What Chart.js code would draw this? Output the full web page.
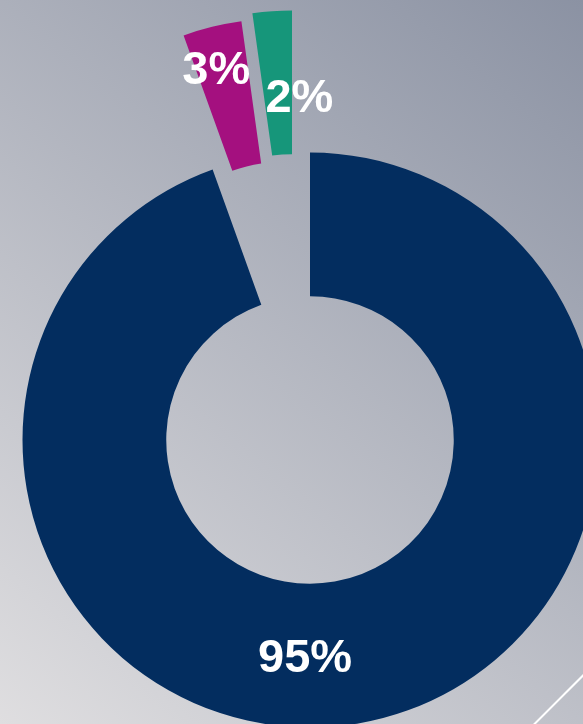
<!DOCTYPE html>
<html>
<head>
<meta charset="utf-8">
<script src="https://cdn.jsdelivr.net/npm/chart.js@4.4.1/dist/chart.umd.min.js"></script>
<style>
  html, body { margin: 0; padding: 0; background: #b8bbc5; }
  #wrap { width: 583px; height: 724px; }
</style>
</head>
<body>
<div id="wrap"><canvas id="chart" width="583" height="724"></canvas></div>
<script>
// slices, clockwise from 12 o'clock
const shares = [94.5, 3.3, 2.2];
const shareLabels = ["95%", "3%", "2%"];
const sliceColors = ["#032d5f", "#a4107f", "#16967a"];

// the two small slices are pulled out of the ring (px)
const explodeShift = [[0, 0], [-29, -134], [-18, -142]];
// label spot, measured from each slice's own centre: angle from 12 o'clock, distance
const labelAngle = [181.3, -15.2, 2.1];
const labelDist = [215, 247, 203];

const backdrop = {
  id: "backdrop",
  beforeDraw(chart) {
    const { ctx, width, height } = chart;
    const g = ctx.createLinearGradient(0, height, width, 0);
    g.addColorStop(0, "#dfdee0");
    g.addColorStop(1, "#8b92a3");
    ctx.save();
    ctx.fillStyle = g;
    ctx.fillRect(0, 0, width, height);
    // thin white slash in the corner
    ctx.strokeStyle = "#ffffff";
    ctx.lineWidth = 2;
    ctx.beginPath();
    ctx.moveTo(520, 738.5);
    ctx.lineTo(600, 658.5);
    ctx.stroke();
    ctx.restore();
  },
};

const explode = {
  id: "explode",
  afterDatasetsUpdate(chart) {
    chart.getDatasetMeta(0).data.forEach((arc, i) => {
      arc.x += explodeShift[i][0];
      arc.y += explodeShift[i][1];
    });
  },
};

const sliceLabels = {
  id: "sliceLabels",
  afterDatasetsDraw(chart) {
    const { ctx } = chart;
    const size = 47;
    ctx.save();
    ctx.font = "bold " + size + "px 'Liberation Sans', Arial, sans-serif";
    ctx.fillStyle = "#ffffff";
    ctx.textAlign = "center";
    ctx.textBaseline = "alphabetic";
    chart.getDatasetMeta(0).data.forEach((arc, i) => {
      const a = (labelAngle[i] * Math.PI) / 180;
      const x = arc.x + labelDist[i] * Math.sin(a);
      const y = arc.y - labelDist[i] * Math.cos(a);
      ctx.fillText(shareLabels[i], x, y + size * 0.358);
    });
    ctx.restore();
  },
};

new Chart(document.getElementById("chart"), {
  type: "doughnut",
  data: {
    labels: shareLabels,
    datasets: [
      {
        data: shares,
        backgroundColor: sliceColors,
        borderWidth: 0,
        clip: false,
      },
    ],
  },
  options: {
    responsive: false,
    animation: false,
    events: [],
    radius: 287.5,
    cutout: "50%",
    layout: { padding: { left: 37, top: 156, right: 0, bottom: 0 } },
    plugins: {
      legend: { display: false },
      tooltip: { enabled: false },
    },
  },
  plugins: [backdrop, explode, sliceLabels],
});
</script>
</body>
</html>
